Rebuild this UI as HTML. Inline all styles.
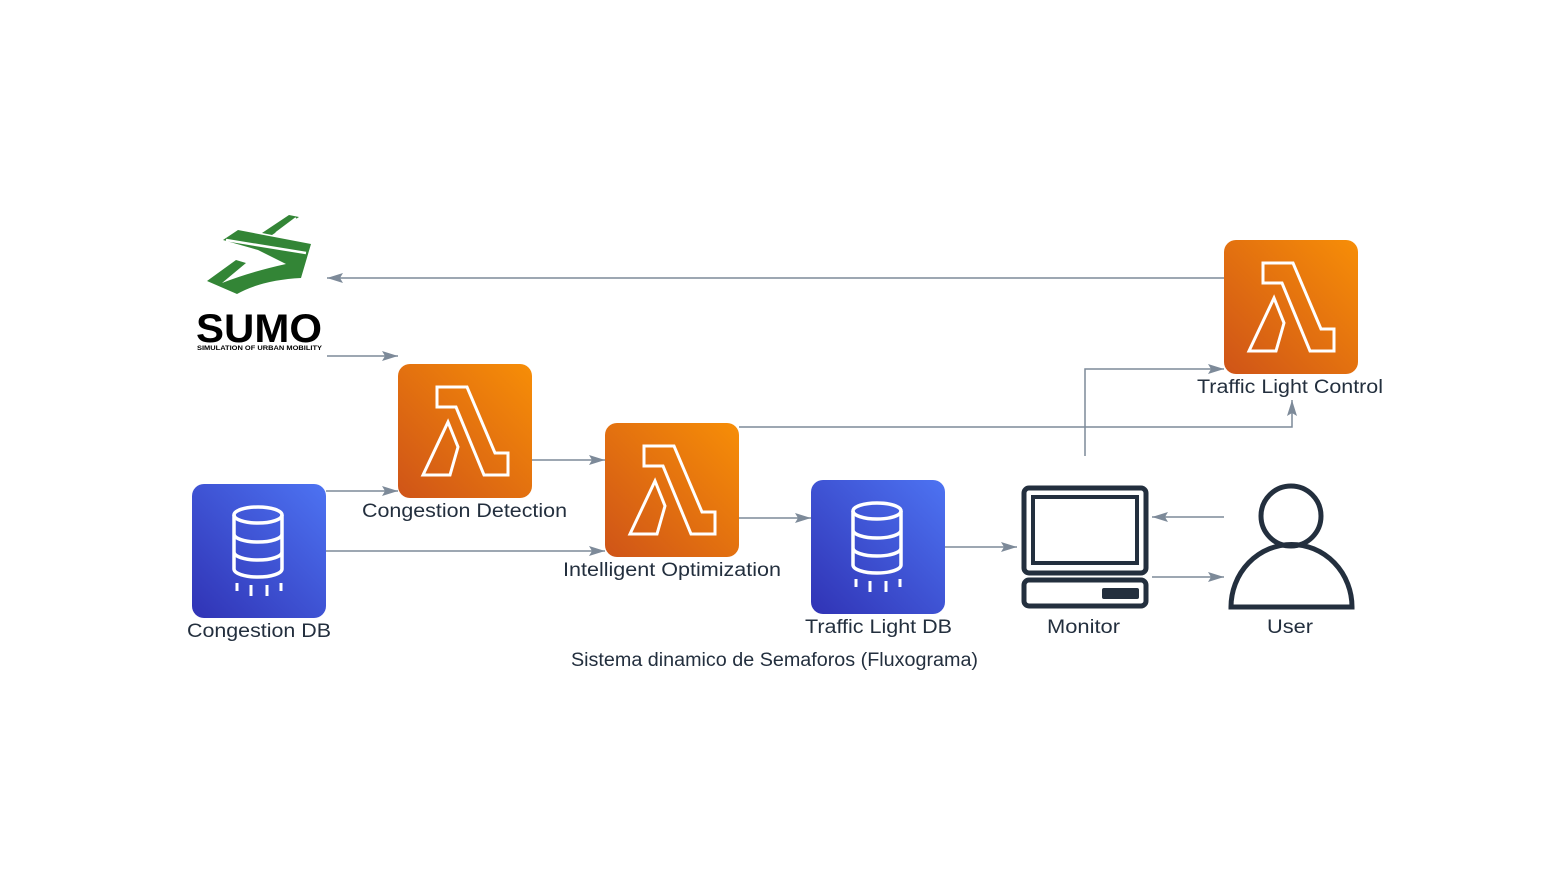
<!DOCTYPE html>
<html><head><meta charset="utf-8"><style>
html,body{margin:0;padding:0;background:#fff;}
svg{display:block;}
text{font-family:"Liberation Sans",sans-serif;font-size:19px;fill:#232f3e;}
</style></head><body>
<svg width="1550" height="871" viewBox="0 0 1550 871" xmlns="http://www.w3.org/2000/svg">
<defs>
<linearGradient id="og" x1="0" y1="1" x2="1" y2="0"><stop offset="0" stop-color="#cf5418"/><stop offset="1" stop-color="#f78e07"/></linearGradient>
<linearGradient id="bg" x1="0" y1="1" x2="1" y2="0"><stop offset="0" stop-color="#3033b5"/><stop offset="1" stop-color="#4d73f2"/></linearGradient>
<marker id="ar" viewBox="0 0 16 12" refX="16" refY="6" markerWidth="16" markerHeight="12" markerUnits="userSpaceOnUse" orient="auto"><path d="M0,1 L16,6 L0,11 L3,6 Z" fill="#7d8a99"/></marker>
<g id="lam"><rect width="134" height="134" rx="12" fill="url(#og)"/>
<path d="M39,23 L69,23 L97,89 L110,89 L110,111 L86,111 L58,43 L39,43 Z M25,111 L50,58 L60,83 L52,111 Z" fill="none" stroke="#fff" stroke-width="3" stroke-linejoin="miter"/></g>
<g id="db"><rect width="134" height="134" rx="12" fill="url(#bg)"/>
<g fill="none" stroke="#fff" stroke-width="3.5"><ellipse cx="66" cy="31" rx="24" ry="8"/>
<path d="M42,31 V85 A24,8 0 0 0 90,85 V31 M42,50 A24,8 0 0 0 90,50 M42,68 A24,8 0 0 0 90,68"/>
<path d="M45,99 V107 M59,101 V112 M75,101 V112 M89,99 V107" stroke-width="3"/></g></g>
</defs>
<g stroke="#7d8a99" stroke-width="1.5" fill="none">
<path d="M1224,278 H327" marker-end="url(#ar)"/>
<path d="M327,356 H398" marker-end="url(#ar)"/>
<path d="M326,491 H398" marker-end="url(#ar)"/>
<path d="M326,551 H605" marker-end="url(#ar)"/>
<path d="M532,460 H605" marker-end="url(#ar)"/>
<path d="M739,427 H1292 V400" marker-end="url(#ar)"/>
<path d="M739,518 H811" marker-end="url(#ar)"/>
<path d="M945,547 H1017" marker-end="url(#ar)"/>
<path d="M1085,456 V369 H1224" marker-end="url(#ar)"/>
<path d="M1224,517 H1152" marker-end="url(#ar)"/>
<path d="M1152,577 H1224" marker-end="url(#ar)"/>
</g>
<g fill="#338536">
<path d="M223,240 L238,230 L311,244 L301,278 Q262,280 237,294 L207,281 L236,260 L246,263 L222,283 Q250,272 286,264 L258,250 Z"/>
<path d="M262,233 L289,215 L299,217 L272,235 Z"/>
</g>
<path d="M226,240 L306,253" stroke="#fff" stroke-width="2.5"/>
<path d="M276,233 L296,218" stroke="#fff" stroke-width="2"/>
<text x="196" y="342" style="font-size:40px;font-weight:bold;fill:#000" textLength="126" lengthAdjust="spacingAndGlyphs">SUMO</text>
<text x="197" y="350" style="font-size:6px;font-weight:bold;fill:#000" textLength="125" lengthAdjust="spacingAndGlyphs">SIMULATION OF URBAN MOBILITY</text>
<use href="#lam" x="398" y="364"/>
<use href="#lam" x="605" y="423"/>
<use href="#lam" x="1224" y="240"/>
<use href="#db" x="192" y="484"/>
<use href="#db" x="811" y="480"/>
<g fill="none" stroke="#232f3e" stroke-width="5">
<rect x="1024" y="488" width="122" height="85" rx="5"/>
<rect x="1033" y="497" width="104" height="66" stroke-width="4"/>
<rect x="1024" y="580" width="122" height="26" rx="5"/>
</g>
<rect x="1102" y="588" width="37" height="11" rx="2" fill="#232f3e"/>
<g fill="none" stroke="#232f3e" stroke-width="5">
<circle cx="1291" cy="516" r="30"/>
<path d="M1231,607 A60,62 0 0 1 1352,607 Z"/>
</g>
<text x="362" y="517" textLength="205" lengthAdjust="spacingAndGlyphs">Congestion Detection</text>
<text x="563" y="576" textLength="218" lengthAdjust="spacingAndGlyphs">Intelligent Optimization</text>
<text x="1197" y="393" textLength="186" lengthAdjust="spacingAndGlyphs">Traffic Light Control</text>
<text x="187" y="637" textLength="144" lengthAdjust="spacingAndGlyphs">Congestion DB</text>
<text x="805" y="633" textLength="147" lengthAdjust="spacingAndGlyphs">Traffic Light DB</text>
<text x="1047" y="633" textLength="73" lengthAdjust="spacingAndGlyphs">Monitor</text>
<text x="1267" y="633" textLength="46" lengthAdjust="spacingAndGlyphs">User</text>
<text x="571" y="666" textLength="407" lengthAdjust="spacingAndGlyphs">Sistema dinamico de Semaforos (Fluxograma)</text>
</svg>
</body></html>
